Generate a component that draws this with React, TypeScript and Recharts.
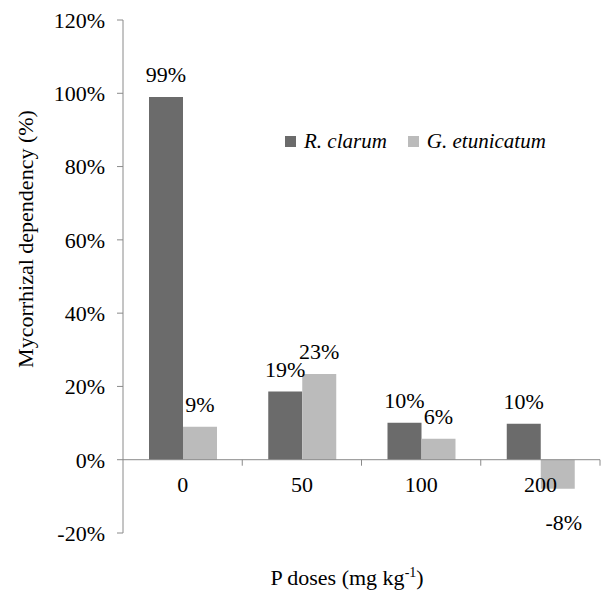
import React from 'react';
import { BarChart, Bar, XAxis, YAxis, ReferenceLine, Legend, LabelList } from 'recharts';

// P doses (mg kg-1) and mycorrhizal dependency per fungus
const doses = ['0', '50', '100', '200'];
const rClarum = [0.99, 0.186, 0.101, 0.098];
const gEtunicatum = [0.09, 0.234, 0.057, -0.079];
const seriesNames = ['R. clarum', 'G. etunicatum'];
const yTicks = [-0.2, 0, 0.2, 0.4, 0.6, 0.8, 1.0, 1.2];

const data = doses.map((dose, i) => ({ dose, rc: rClarum[i], ge: gEtunicatum[i] }));

const W = 604;
const H = 590;
const margin = { top: 20, right: 4, bottom: 27, left: 43 };
const X_AXIS_H = 30;
const Y_AXIS_W = 80;
const plotTop = margin.top;
const plotBottom = H - margin.bottom - X_AXIS_H;
const plotLeft = margin.left + Y_AXIS_W;
const plotWidth = W - margin.right - plotLeft;
const zeroY = plotTop + (1.2 / 1.4) * (plotBottom - plotTop);

const FONT = 'Liberation Serif';
const AXIS = '#8a8a8a';
const DARK = '#6b6b6b';
const LIGHT = '#bbbbbb';

const pct = (v: number) => `${Math.round(v * 100)}%`;

const DoseTick = (props: any) => {
  const { x, payload } = props;
  const half = plotWidth / doses.length / 2;
  return (
    <g>
      <text x={x} y={zeroY + 32} textAnchor="middle" fontFamily={FONT} fontSize={22} fill="#000">
        {payload.value}
      </text>
      <line x1={x + half} x2={x + half} y1={zeroY} y2={zeroY + 6} stroke={AXIS} />
    </g>
  );
};

const BarLabel = (props: any) => {
  const { x, y, width, height, value } = props;
  const top = Math.min(y, y + height);
  const bottom = Math.max(y, y + height);
  const ty = value >= 0 ? top - 15 : bottom + 41;
  const dx = value >= 0 ? 0 : 6;
  return (
    <text x={x + width / 2 + dx} y={ty} textAnchor="middle" fontFamily={FONT} fontSize={22} fill="#000">
      {pct(value)}
    </text>
  );
};

const LegendBox = (props: any) => {
  const items = [...props.payload].sort(
    (a: any, b: any) => seriesNames.indexOf(a.value) - seriesNames.indexOf(b.value)
  );
  return (
    <div style={{ display: 'flex', alignItems: 'center', fontFamily: FONT, fontSize: 21, fontStyle: 'italic' }}>
      {items.map((p: any) => (
        <div key={p.value} style={{ display: 'flex', alignItems: 'center', marginRight: 21 }}>
          <span style={{ width: 11, height: 11, background: p.color, display: 'inline-block', marginRight: 8 }} />
          <span>{p.value}</span>
        </div>
      ))}
    </div>
  );
};

const YLabel = () => (
  <text
    x={0}
    y={0}
    transform={`translate(33, 239) rotate(-90)`}
    textAnchor="middle"
    fontFamily={FONT}
    fontSize={22}
    fill="#000"
  >
    Mycorrhizal dependency (%)
  </text>
);

const XLabel = () => (
  <text x={347} y={585} textAnchor="middle" fontFamily={FONT} fontSize={22} fill="#000">
    P doses (mg kg
    <tspan fontSize={14} dy={-8}>-1</tspan>
    <tspan dy={8}>)</tspan>
  </text>
);

export default function App() {
  return (
    <div style={{ position: 'absolute', left: 0, top: 0, width: W, height: H, background: '#fff' }}>
      <BarChart width={W} height={H} data={data} margin={margin} barGap={0} barSize={34}>
        <XAxis
          dataKey="dose"
          height={X_AXIS_H}
          axisLine={false}
          tickLine={false}
          tick={<DoseTick />}
          interval={0}
          label={<XLabel />}
        />
        <YAxis
          width={Y_AXIS_W}
          domain={[-0.2, 1.2]}
          ticks={yTicks}
          tickFormatter={pct}
          stroke={AXIS}
          tickSize={6}
          tickMargin={12}
          tick={{ fill: '#000', fontFamily: FONT, fontSize: 22 }}
          label={<YLabel />}
        />
        <ReferenceLine y={0} stroke={AXIS} />
        <Legend
          verticalAlign="middle"
          layout="horizontal"
          content={<LegendBox />}
          wrapperStyle={{ position: 'absolute', top: 129, left: 285, width: 320 }}
        />
        <Bar dataKey="rc" name={seriesNames[0]} fill={DARK} isAnimationActive={false}>
          <LabelList dataKey="rc" content={<BarLabel />} />
        </Bar>
        <Bar dataKey="ge" name={seriesNames[1]} fill={LIGHT} isAnimationActive={false}>
          <LabelList dataKey="ge" content={<BarLabel />} />
        </Bar>
      </BarChart>
    </div>
  );
}
